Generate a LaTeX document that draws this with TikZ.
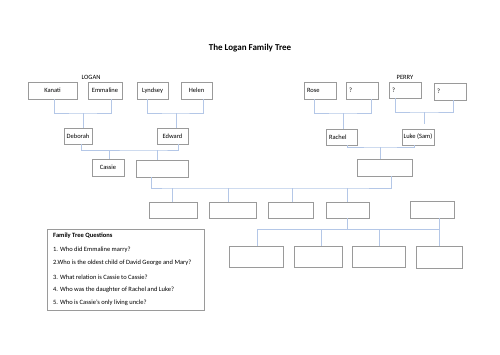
\documentclass[tikz,border=0pt]{standalone}
\usepackage{fontspec}
\setmainfont{Carlito}
\usetikzlibrary{calc}
\definecolor{boxgray}{HTML}{9A9A9A}
\definecolor{connblue}{HTML}{B4C7E7}
\newcommand\fsz{\fontsize{6.5}{7.5}\selectfont}
\tikzset{
  box/.style={draw=boxgray, line width=0.8pt, inner sep=0pt, outer sep=0pt, anchor=north west, font=\fsz},
  sz/.style 2 args={minimum width=#1pt, minimum height=#2pt},
  lt/.style={align=left, inner xsep=3pt, text width=#1pt},
  conn/.style={draw=connblue, line width=0.8pt},
  lbl/.style={font=\fsz, inner sep=0pt},
  qtxt/.style={font=\fsz, anchor=west, inner sep=0pt},
}
\begin{document}
\begin{tikzpicture}[x=1pt,y=-1pt]
\useasboundingbox (0,0) rectangle (500,354);
\node[font=\fontsize{9}{11}\selectfont\bfseries, inner sep=0pt] (title) at (250,48) {The Logan Family Tree};
\node[lbl] (logan) at (91,77) {LOGAN};
\node[lbl] (perry) at (405,77) {PERRY};
% row 1
\node[box, sz={49}{17}] (kan) at (28,82) {Kanati};
\node[box, sz={34}{17}] (emm) at (88,82) {Emmaline};
\node[box, sz={31}{17}] (lyn) at (137,82) {Lyndsey};
\node[box, sz={31}{17}] (hel) at (181,82) {Helen};
\node[box, sz={32}{17}, lt=26] (rose) at (304,82) {Rose};
\node[box, sz={32}{17}, lt=26] (qa) at (346,82) {?};
\node[box, sz={32}{16}, lt=26] (qb) at (389,82) {?};
\node[box, sz={32}{17}, lt=26] (qc) at (434,83) {?};
% row 2
\node[box, sz={28}{16}] (deb) at (64,128) {Deborah};
\node[box, sz={31}{16}] (edw) at (157,128) {Edward};
\node[box, sz={31}{16}, lt=25] (rach) at (326,129) {Rachel};
\node[box, sz={32}{16}] (luke) at (402,129) {Luke (Sam)};
% row 3
\node[box, sz={32}{17}] (cas) at (92,159) {Cassie};
\node[box, sz={52}{17}] (bl) at (136,160) {};
\node[box, sz={55}{17}] (br) at (357,159) {};
% row 4
\node[box, sz={48}{16}] (c1) at (149,202) {};
\node[box, sz={47}{16}] (c2) at (209,202) {};
\node[box, sz={45}{16}] (c3) at (268,202) {};
\node[box, sz={43}{16}] (c4) at (326,202) {};
\node[box, sz={44}{17}] (c5) at (410,201) {};
% row 5
\node[box, sz={54}{21}] (g1) at (229,246) {};
\node[box, sz={48}{21}] (g2) at (294,246) {};
\node[box, sz={53}{21}] (g3) at (352,246) {};
\node[box, sz={46}{22}] (g4) at (416,246) {};
% questions
\node[box, sz={157}{81}] (qbox) at (47,229) {};
\node[qtxt, font=\fsz\bfseries] (q0) at (53,236) {Family Tree Questions};
\node[qtxt] (q1) at (53,250) {1. Who did Emmaline marry?};
\node[qtxt] (q2) at (53,263) {2.Who is the oldest child of David George and Mary?};
\node[qtxt] (q3) at (53,277) {3. What relation is Cassie to Cassie?};
\node[qtxt] (q4) at (53,290) {4. Who was the daughter of Rachel and Luke?};
\node[qtxt] (q5) at (53,303) {5. Who is Cassie's only living uncle?};
% connectors
\coordinate (j1) at (83,113);
\draw[conn] ([xshift=1.5pt]kan.south) |- (j1) -| ([xshift=6pt]emm.south);
\draw[conn] (j1) -- (j1 |- deb.north);
\coordinate (j2) at (176,113);
\draw[conn] ([xshift=-5.5pt]lyn.south) |- (j2) -| ([xshift=6.5pt]hel.south);
\draw[conn] (j2) -- (j2 |- edw.north);
\coordinate (j3) at (157,150);
\coordinate (j3b) at (109,150);
\draw[conn] ([xshift=3pt]deb.south) |- (j3) -| ([xshift=5.5pt]edw.south);
\draw[conn] (j3) -- (j3 |- bl.north);
\draw[conn] (j3b) -- (j3b |- cas.north);
\coordinate (j4) at (343,113);
\draw[conn] ([xshift=-6pt]rose.south) |- (j4) -| ([xshift=9pt]qa.south);
\draw[conn] (j4) -- (j4 |- rach.north);
\coordinate (j5) at (424,112);
\coordinate (j5e) at (424,124);
\draw[conn] ([xshift=-10pt]qb.south) |- (j5) -| ([xshift=3pt]qc.south);
\draw[conn] (j5) -- (j5e);
\coordinate (j6) at (380,147);
\draw[conn] ([xshift=5.5pt]rach.south) |- (j6) -| ([xshift=-4pt]luke.south);
\draw[conn] (j6) -- (j6 |- br.north);
% children
\coordinate (k1) at (172,188);
\coordinate (k2) at (228,188);
\coordinate (k3) at (292,188);
\coordinate (k4) at (347,188);
\draw[conn] ([xshift=-11pt]bl.south) |- (k1) -- (k4) -| ([xshift=6.5pt]br.south);
\draw[conn] (k1) -- (k1 |- c1.north);
\draw[conn] (k2) -- (k2 |- c2.north);
\draw[conn] (k3) -- (k3 |- c3.north);
\draw[conn] (k4) -- (k4 |- c4.north);
% grandchildren
\coordinate (m1) at (257,229);
\coordinate (m2) at (321,229);
\coordinate (m3) at (379,229);
\coordinate (m4) at (439,229);
\coordinate (m0) at (347,229);
\draw[conn] (m0 |- c4.south) -- (m0);
\draw[conn] (m4 |- c5.south) -- (m4 |- g4.north);
\draw[conn] (m1) -- (m4);
\draw[conn] (m1) -- (m1 |- g1.north);
\draw[conn] (m2) -- (m2 |- g2.north);
\draw[conn] (m3) -- (m3 |- g3.north);
\end{tikzpicture}
\end{document}
